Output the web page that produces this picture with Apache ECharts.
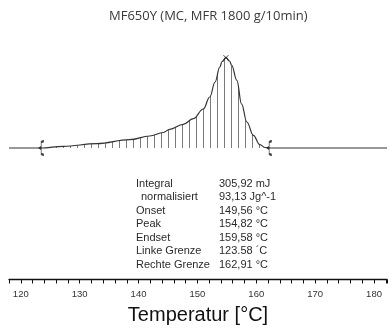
<!DOCTYPE html>
<html>
<head>
<meta charset="utf-8">
<script src="https://cdn.jsdelivr.net/npm/echarts@6/dist/echarts.min.js"></script>
<style>
  html, body { margin: 0; padding: 0; background: #fff; }
  #chart { width: 392px; height: 333px; }
</style>
</head>
<body>
<div id="chart"></div>
<script>
// DSC trace (temperature in °C, heat flow in arbitrary units above baseline)
const temps = [118, 123.5, 127.2, 132.9, 138.5, 141.9, 144.2, 145.3, 147.6, 149.3, 151.0, 152.1,
  153.0, 153.8, 154.2, 154.85, 155.45, 155.8, 156.7, 157.5, 158.4, 159.5, 160.6, 161.5, 162.3, 182.2];
const heatFlow = [0, 0, 1.7, 4.3, 8.3, 12, 15.5, 18.7, 23.7, 29.3, 39, 51,
  66, 81, 86.5, 90.3, 87, 83, 67.7, 44, 26, 12.7, 3.3, 0.5, 0, 0];

// integration limits and peak
const limits = [123.58, 162.3];
const peak = [154.85, 90.3];

const resultLabels = ['Integral', 'normalisiert', 'Onset', 'Peak', 'Endset', 'Linke Grenze', 'Rechte Grenze'];
const resultValues = ['305,92 mJ', '93,13 Jg^-1', '149,56 °C', '154,82 °C', '159,58 °C', '123.58 ´C', '162,91 °C'];

const tickLabels = [120, 130, 140, 150, 160, 170, 180];

const chart = echarts.init(document.getElementById('chart'));

const textEls = [];
resultLabels.forEach((lab, i) => {
  const y = 184 + i * 13.5;
  textEls.push({
    type: 'text',
    left: lab === 'normalisiert' ? 141 : 136,
    top: y - 6,
    style: { text: lab, fill: '#2a2a2a', font: '11px "Liberation Sans", Arial' }
  });
  textEls.push({
    type: 'text',
    left: 219,
    top: y - 6,
    style: { text: resultValues[i], fill: '#2a2a2a', font: '11px "Liberation Sans", Arial' }
  });
});

const option = {
  backgroundColor: '#fff',
  animation: false,
  title: {
    text: 'MF650Y (MC, MFR 1800 g/10min)',
    left: 104,
    top: 5,
    textStyle: { fontFamily: 'Open Sans', fontSize: 13, fontWeight: 'normal', color: '#3a3a3a' }
  },
  grid: { left: 9, right: 5, top: 40, bottom: 53.5 },
  xAxis: {
    type: 'value',
    min: 118,
    max: 182.2,
    interval: 2,
    name: 'Temperatur [°C]',
    nameLocation: 'middle',
    nameGap: 26,
    nameTextStyle: { fontFamily: 'Liberation Sans', fontSize: 20, color: '#111' },
    axisLine: { onZero: false, lineStyle: { color: '#111', width: 1.3 } },
    axisTick: { show: true, length: 4, lineStyle: { color: '#111', width: 1 } },
    splitLine: { show: false },
    axisLabel: {
      margin: 10,
      fontFamily: 'Liberation Sans',
      fontSize: 9.5,
      color: '#333',
      formatter: v => (tickLabels.indexOf(v) >= 0 ? String(v) : '')
    }
  },
  yAxis: {
    type: 'value',
    min: -131.5,
    max: 108,
    show: false
  },
  graphic: textEls,
  series: [
    {
      type: 'line',
      data: temps.map((t, i) => [t, heatFlow[i]]),
      smooth: 0.4,
      smoothMonotone: 'x',
      showSymbol: false,
      lineStyle: { color: '#333', width: 1.2 },
      itemStyle: {
        color: '#333',
        decal: {
          symbol: 'rect',
          symbolSize: 1,
          color: 'rgba(30,30,30,0.85)',
          dashArrayX: [1, 6],
          dashArrayY: [4, 0],
          rotation: 0
        }
      },
      areaStyle: { color: 'rgba(255,255,255,0)', origin: 0 },
      z: 2
    },
    {
      type: 'scatter',
      data: limits.map(t => [t, 0]),
      symbol: 'path://M3,0 L1,1 L1,6 L0,7 L1,8 L1,13 L3,14',
      symbolSize: [4, 14],
      itemStyle: { color: 'rgba(0,0,0,0)', borderColor: '#111', borderWidth: 1.3 },
      z: 3
    },
    {
      type: 'scatter',
      data: [peak],
      symbol: 'path://M0,0 L10,10 M10,0 L0,10',
      symbolSize: 5,
      itemStyle: { color: 'rgba(0,0,0,0)', borderColor: '#111', borderWidth: 1 },
      z: 3
    }
  ]
};

chart.setOption(option);
</script>
</body>
</html>
